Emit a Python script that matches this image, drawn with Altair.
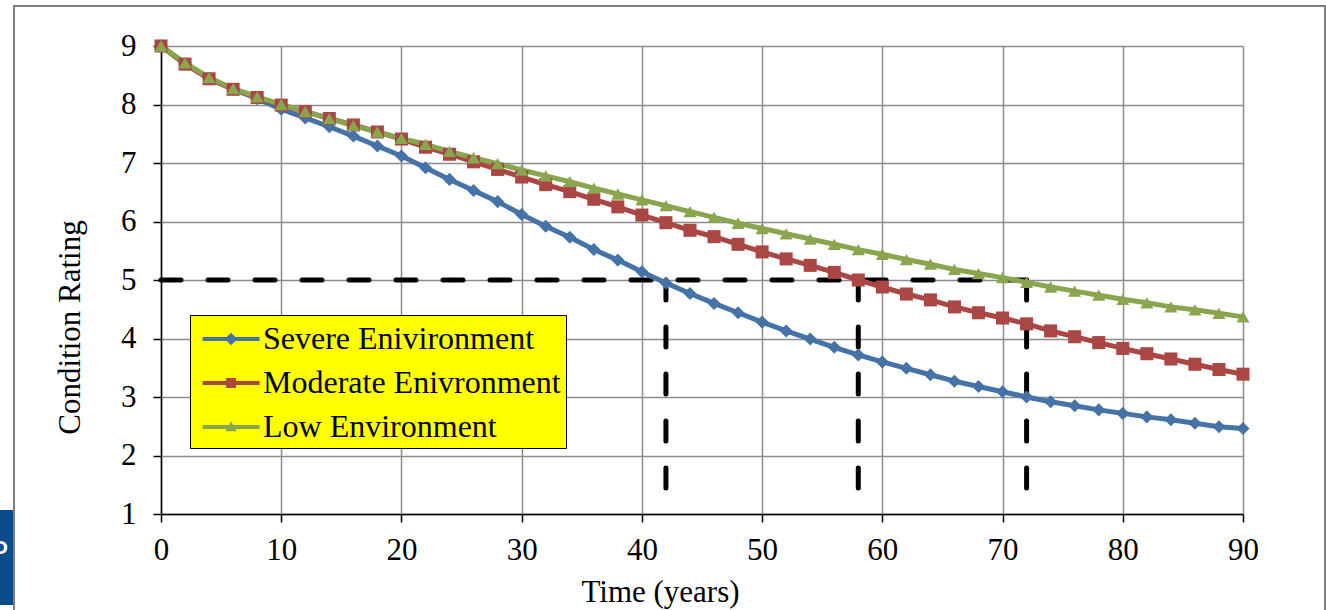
import altair as alt
import pandas as pd

# ---------------- data ----------------
years = list(range(0, 91, 2))
severe = [9.0, 8.7, 8.45, 8.26, 8.1, 7.92, 7.77, 7.62, 7.46, 7.29,
          7.12, 6.92, 6.72, 6.53, 6.34, 6.12, 5.92, 5.73, 5.52, 5.34,
          5.14, 4.95, 4.77, 4.6, 4.44, 4.28, 4.13, 3.99, 3.85, 3.72,
          3.6, 3.49, 3.38, 3.27, 3.18, 3.09, 3.0, 2.92, 2.85, 2.78,
          2.72, 2.66, 2.61, 2.55, 2.49, 2.46]
moderate = [9.0, 8.69, 8.44, 8.26, 8.12, 7.99, 7.88, 7.76, 7.65, 7.53,
            7.41, 7.27, 7.15, 7.02, 6.89, 6.76, 6.63, 6.51, 6.38, 6.25,
            6.11, 5.98, 5.85, 5.74, 5.61, 5.48, 5.36, 5.25, 5.13, 5.0,
            4.88, 4.76, 4.66, 4.54, 4.44, 4.35, 4.25, 4.13, 4.03, 3.93,
            3.83, 3.74, 3.65, 3.56, 3.47, 3.39]
low = [9.0, 8.71, 8.46, 8.27, 8.13, 8.0, 7.88, 7.76, 7.64, 7.53,
       7.42, 7.32, 7.2, 7.09, 6.99, 6.88, 6.78, 6.68, 6.57, 6.47,
       6.37, 6.27, 6.17, 6.07, 5.97, 5.88, 5.79, 5.7, 5.61, 5.52,
       5.44, 5.35, 5.27, 5.18, 5.11, 5.04, 4.96, 4.88, 4.81, 4.74,
       4.67, 4.61, 4.54, 4.49, 4.43, 4.37]
series_names = ["Severe Enivironment", "Moderate Enivronment", "Low Environment"]
series_colors = ["#4572A7", "#AA4643", "#89A54E"]
marker_shapes = ["diamond", "square", "triangle-up"]
BAR = "M-0.6,-0.11L2.4,-0.11L2.4,0.11L-0.6,0.11Z "
legend_paths = [
    BAR + "M0.57,0L0.9,-0.33L1.23,0L0.9,0.33Z",
    BAR + "M0.64,-0.26L1.16,-0.26L1.16,0.26L0.64,0.26Z",
    BAR + "M0.9,-0.3L1.2,0.22L0.6,0.22Z",
]
crossing_years = [42, 58, 72]
threshold = [5, 5, 5]
floor_rating = [1, 1, 1]
x_ticks = list(range(0, 91, 10))
y_ticks = list(range(1, 10))

rows = []
for name, vals in zip(series_names, [severe, moderate, low]):
    for t, v in zip(years, vals):
        rows.append({"series": name, "year": t, "rating": v})
df = pd.DataFrame(rows)

vdf = pd.DataFrame({"year": crossing_years, "top": threshold, "bottom": floor_rating})
hdf = pd.DataFrame({"start": [x_ticks[0]], "end": [max(crossing_years)], "level": [threshold[0]]})

FONT = "Liberation Serif"
x_scale = alt.Scale(domain=[0, 90], nice=False, zero=False)
y_scale = alt.Scale(domain=[1, 9], nice=False, zero=False)

x_axis = alt.Axis(values=x_ticks, title="Time (years)", grid=True, labelPadding=13,
                  labelFlush=False, tickSize=8,
                  titleX=499, titleY=78, titleAlign="center", titleBaseline="middle")
y_axis = alt.Axis(values=y_ticks, title="Condition Rating", grid=True, labelPadding=17,
                  labelFlush=False, tickSize=8,
                  titleX=-91, titleY=281, titleAlign="center", titleBaseline="middle",
                  titleAngle=270)

color_plain = alt.Color("series:N", scale=alt.Scale(domain=series_names, range=series_colors), legend=None)
shape_plain = alt.Shape("series:N", scale=alt.Scale(domain=series_names, range=marker_shapes), legend=None)

dash_style = dict(color="black", strokeWidth=5, strokeDash=[20, 27], strokeCap="round")

hrule = alt.Chart(hdf).mark_rule(**dash_style).encode(
    x=alt.X("start:Q", scale=x_scale, axis=x_axis),
    x2="end:Q",
    y=alt.Y("level:Q", scale=y_scale, axis=y_axis),
)
vrules = alt.Chart(vdf).mark_rule(**dash_style).encode(
    x=alt.X("year:Q", scale=x_scale, axis=x_axis),
    y=alt.Y("top:Q", scale=y_scale, axis=y_axis),
    y2="bottom:Q",
)

lines = alt.Chart(df).mark_line(strokeWidth=5, strokeJoin="round", strokeCap="round").encode(
    x=alt.X("year:Q", scale=x_scale, axis=x_axis),
    y=alt.Y("rating:Q", scale=y_scale, axis=y_axis),
    color=color_plain,
)
points = alt.Chart(df).mark_point(filled=True, size=170, opacity=1).encode(
    x=alt.X("year:Q", scale=x_scale, axis=x_axis),
    y=alt.Y("rating:Q", scale=y_scale, axis=y_axis),
    color=color_plain,
    shape=shape_plain,
)

legend_def = alt.Legend(title=None, orient="none", legendX=29, legendY=269,
                        fillColor="#FFFF00", strokeColor="black", padding=5,
                        labelFont=FONT, labelFontSize=32, labelColor="black",
                        labelLimit=500, labelOffset=30, symbolSize=1444,
                        symbolStrokeWidth=0, rowPadding=9, symbolOpacity=1)
legend_layer = alt.Chart(df).mark_point(filled=True, opacity=1).encode(
    x=alt.X("year:Q", scale=x_scale, axis=x_axis),
    y=alt.Y("rating:Q", scale=y_scale, axis=y_axis),
    color=alt.Color("series:N", scale=alt.Scale(domain=series_names, range=series_colors),
                    legend=legend_def, sort=series_names),
    shape=alt.Shape("series:N", scale=alt.Scale(domain=series_names, range=legend_paths),
                    legend=legend_def, sort=series_names),
    size=alt.value(0),
)

deco = pd.DataFrame({"k": [0]})
frame = alt.Chart(deco).mark_rect(filled=False, stroke="#7f7f7f", strokeWidth=2).encode(
    x=alt.value(-147), x2=alt.value(1164), y=alt.value(-40), y2=alt.value(575),
)
blue_box = alt.Chart(deco).mark_rect(color="#0B4A8B").encode(
    x=alt.value(-165), x2=alt.value(-148), y=alt.value(464), y2=alt.value(559),
)
blue_text = alt.Chart(deco).mark_text(text="P", color="white", font="DejaVu Sans",
                                      fontSize=30, align="right", baseline="middle").encode(
    x=alt.value(-153), y=alt.value(508),
)

chart = alt.layer(frame, blue_box, blue_text, hrule, vrules, lines, points, legend_layer).resolve_scale(
    color="independent", shape="independent"
).properties(
    width=1082, height=468,
    autosize=alt.AutoSizeParams(type="none"),
    padding={"left": 161, "top": 46, "right": 83, "bottom": 96},
).configure_view(stroke=None).configure_axis(
    domainColor="black", domainWidth=1.5, tickColor="black", tickWidth=1.5,
    labelFont=FONT, labelFontSize=31, labelColor="black",
    titleFont=FONT, titleFontSize=31, titleFontWeight="normal", titleColor="black",
    gridColor="#8c8c8c", gridWidth=1.5,
)

chart.save("out.html", embed_options={"renderer": "svg", "actions": False})
